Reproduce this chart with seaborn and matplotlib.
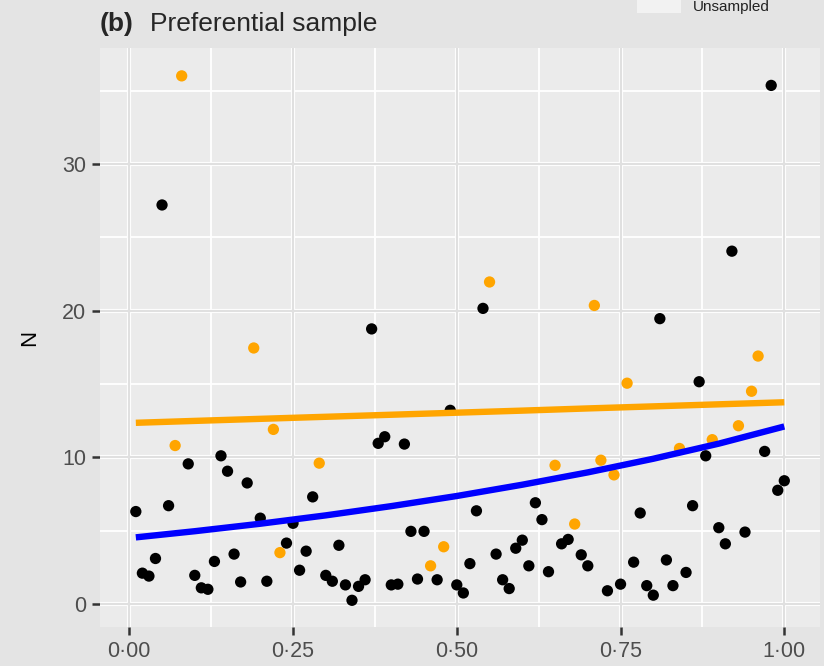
import numpy as np
import pandas as pd
import matplotlib
matplotlib.use("Agg")
import matplotlib.pyplot as plt
import seaborn as sns

# ---- data -------------------------------------------------------------
# site locations along the transect (100 regularly spaced sites)
site_x = np.arange(1, 101) / 100

# observed abundance N at each site
abundance = [
    6.3, 2.1, 1.9, 3.1, 27.2, 6.7, 10.8, 36.0, 9.55, 1.95,
    1.1, 1.0, 2.9, 10.1, 9.05, 3.4, 1.5, 8.25, 17.45, 5.85,
    1.55, 11.9, 3.5, 4.15, 5.5, 2.3, 3.6, 7.3, 9.6, 1.95,
    1.55, 4.0, 1.3, 0.25, 1.2, 1.65, 18.75, 10.95, 11.4, 1.3,
    1.35, 10.9, 4.95, 1.7, 4.95, 2.6, 1.65, 3.9, 13.2, 1.3,
    0.75, 2.75, 6.35, 20.15, 21.95, 3.4, 1.65, 1.05, 3.8, 4.35,
    2.6, 6.9, 5.75, 2.2, 9.45, 4.1, 4.4, 5.45, 3.35, 2.6,
    20.35, 9.8, 0.9, 8.8, 1.35, 15.05, 2.85, 6.2, 1.25, 0.6,
    19.45, 3.0, 1.25, 10.6, 2.15, 6.7, 15.15, 10.1, 11.2, 5.2,
    4.1, 24.05, 12.15, 4.9, 14.5, 16.9, 10.4, 35.35, 7.75, 8.4,
]

# sites picked by the preferential sampling design (1-based site numbers)
sampled_sites = [7, 8, 19, 22, 23, 29, 46, 48, 55, 65,
                 68, 71, 72, 74, 76, 84, 89, 93, 95, 96]

# fitted mean abundance curves
curve_x = [0.01, 0.1, 0.2, 0.3, 0.4, 0.5, 0.6, 0.7, 0.8, 0.9, 1.0]
full_fit = [4.54, 4.96, 5.47, 6.04, 6.67, 7.36, 8.13, 8.97, 9.90, 10.93, 12.10]
pref_fit = [12.35, 12.48, 12.62, 12.76, 12.90, 13.04, 13.18, 13.33, 13.47, 13.61, 13.75]

x_ticks = [0.0, 0.25, 0.5, 0.75, 1.0]
x_tick_labels = ["0\u00b700", "0\u00b725", "0\u00b750", "0\u00b775", "1\u00b700"]
y_ticks = [0, 10, 20, 30]

# ---- tables -----------------------------------------------------------
status = ["Sampled" if (i + 1) in sampled_sites else "Unsampled"
          for i in range(len(abundance))]
sites = pd.DataFrame({"x": site_x, "N": abundance, "status": status})
curves = pd.concat([
    pd.DataFrame({"x": curve_x, "N": full_fit, "model": "All sites"}),
    pd.DataFrame({"x": curve_x, "N": pref_fit, "model": "Preferential"}),
])

# ---- figure -----------------------------------------------------------
sns.set_style("white")
plt.rcParams["font.family"] = ["Liberation Sans", "DejaVu Sans"]

W, H = 824, 666
fig = plt.figure(figsize=(W / 100, H / 100), dpi=100, facecolor="#E4E4E4")
left, right, top, bottom = 100, 820, 48, 627
ax = fig.add_axes([left / W, 1 - bottom / H, (right - left) / W, (bottom - top) / H])
ax.set_facecolor("#EBEBEB")
for s in ax.spines.values():
    s.set_visible(False)

ax.set_xlim(-0.0447, 1.0545)
ax.set_ylim(-1.57, 37.9)

# panel grid
for v in [0.125, 0.375, 0.625, 0.875]:
    ax.axvline(v, color="white", lw=1.3, zorder=0.5)
for v in [5, 15, 25, 35]:
    ax.axhline(v, color="white", lw=1.3, zorder=0.5)
for v in x_ticks:
    ax.axvline(v, color="white", lw=3.0, zorder=0.6)
    ax.axvline(v, color="#E0E0E0", lw=1.5, zorder=0.7)
for v in y_ticks:
    ax.axhline(v, color="white", lw=3.0, zorder=0.6)
    ax.axhline(v, color="#E0E0E0", lw=1.5, zorder=0.7)

sns.scatterplot(data=sites, x="x", y="N", hue="status",
                palette={"Unsampled": "black", "Sampled": "#FFA500"},
                s=66, linewidth=0, legend=False, ax=ax, zorder=2)

sns.lineplot(data=curves, x="x", y="N", hue="model",
             palette={"All sites": "#0000FF", "Preferential": "#FFA500"},
             lw=4.6, legend=False, ax=ax, zorder=3,
             solid_capstyle="butt")

ax.set_xticks(x_ticks)
ax.set_xticklabels(x_tick_labels)
ax.set_yticks(y_ticks)
ax.tick_params(axis="both", bottom=True, left=True, direction="out",
               length=6, width=1.8, color="#333333",
               labelsize=15.5, labelcolor="#4D4D4D", pad=4)
ax.set_xlabel("")
ax.set_ylabel("N", fontsize=16, color="black", labelpad=16)

# title
fig.text(100 / W, 1 - 31 / H, "(b)", fontsize=19, fontweight="bold",
         ha="left", va="baseline")
fig.text(150 / W, 1 - 31 / H, "Preferential sample", fontsize=19,
         ha="left", va="baseline")

# legend entry at the top edge
fig.patches.append(plt.Rectangle((637 / W, 1 - 13 / H), 44 / W, 14 / H,
                                 transform=fig.transFigure,
                                 facecolor="#F2F2F2", edgecolor="none"))
fig.text(693 / W, 1 - 11 / H, "Unsampled", fontsize=11,
         ha="left", va="baseline", color="#222222")

fig.savefig("out.png", dpi=100, facecolor=fig.get_facecolor())
